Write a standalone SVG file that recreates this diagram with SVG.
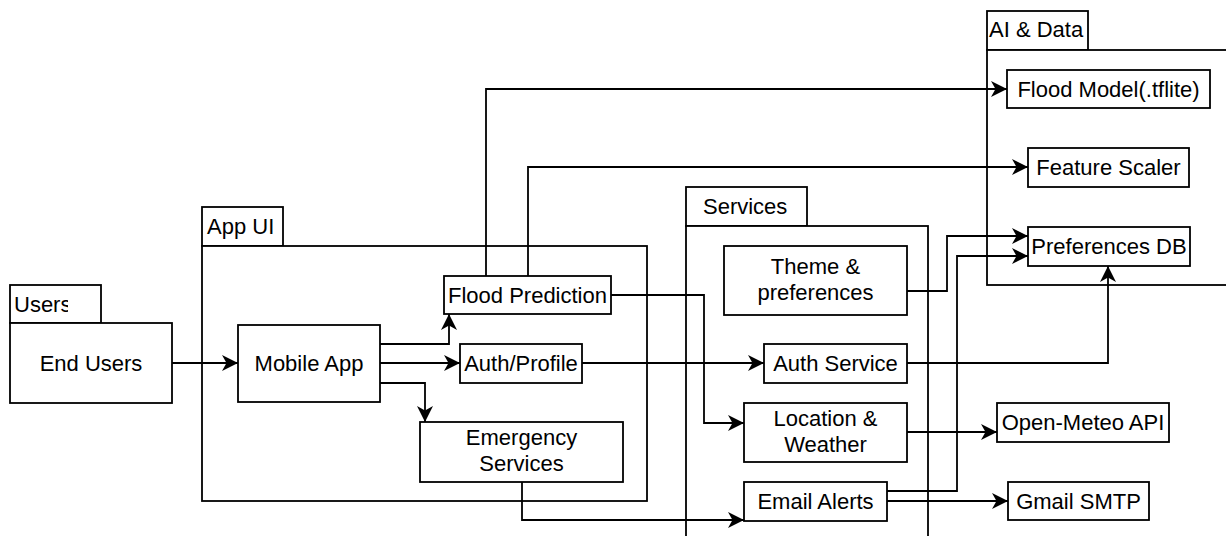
<svg xmlns="http://www.w3.org/2000/svg" width="1226" height="536" viewBox="0 0 1226 536">
  <style>
    .box { fill: #ffffff; stroke: #000000; stroke-width: 1.8; }
    .lbl { font-family: "Liberation Sans", Arial, sans-serif; font-size: 22px; fill: #000000; text-anchor: middle; }
    .tab { font-family: "Liberation Sans", Arial, sans-serif; font-size: 22px; fill: #000000; }
    .edge { fill: none; stroke: #000000; stroke-width: 1.8; marker-end: url(#arrow); }
  </style>
  <defs>
    <marker id="arrow" markerUnits="userSpaceOnUse" markerWidth="16" markerHeight="16" refX="16" refY="8" orient="auto">
      <path d="M0,0 L16,8 L0,16 L4.5,8 Z" fill="#000000"/>
    </marker>
    <clipPath id="usersTabClip">
      <rect x="10" y="285" width="58" height="38"/>
    </clipPath>
  </defs>
  <rect x="0" y="0" width="1226" height="536" fill="#ffffff"/>

  <!-- containers -->
  <g id="users">
    <rect class="box" x="10" y="285" width="91" height="38"/>
    <text class="tab" x="14" y="311.5" clip-path="url(#usersTabClip)">Users</text>
  </g>
  <g id="app-ui">
    <rect class="box" x="202" y="207" width="81" height="39"/>
    <text class="tab" x="207" y="233.5">App UI</text>
    <rect class="box" x="202" y="246" width="445" height="255"/>
  </g>
  <g id="services">
    <rect class="box" x="686" y="187" width="121" height="39"/>
    <text class="tab" x="703" y="213.5">Services</text>
    <rect class="box" x="686" y="226" width="242" height="330"/>
  </g>
  <g id="ai-data">
    <rect class="box" x="987" y="11" width="101" height="39"/>
    <text class="tab" x="989" y="37">AI &amp; Data</text>
    <rect class="box" x="987" y="50" width="260" height="235"/>
  </g>

  <!-- nodes -->
  <g id="end-users">
    <rect class="box" x="10" y="323" width="162" height="80"/>
    <text class="lbl" x="91" y="371">End Users</text>
  </g>
  <g id="mobile-app">
    <rect class="box" x="238" y="325" width="142" height="77"/>
    <text class="lbl" x="309" y="371">Mobile App</text>
  </g>
  <g id="flood-prediction">
    <rect class="box" x="444" y="276" width="167" height="38"/>
    <text class="lbl" x="527.5" y="303">Flood Prediction</text>
  </g>
  <g id="auth-profile">
    <rect class="box" x="460" y="344" width="122" height="39"/>
    <text class="lbl" x="521" y="371">Auth/Profile</text>
  </g>
  <g id="emergency-services">
    <rect class="box" x="420" y="422" width="203" height="60"/>
    <text class="lbl" x="521.5" y="445">Emergency</text>
    <text class="lbl" x="521.5" y="471">Services</text>
  </g>
  <g id="theme-preferences">
    <rect class="box" x="724" y="246" width="183" height="69"/>
    <text class="lbl" x="815.5" y="274">Theme &amp;</text>
    <text class="lbl" x="815.5" y="300">preferences</text>
  </g>
  <g id="auth-service">
    <rect class="box" x="764" y="344" width="143" height="39"/>
    <text class="lbl" x="835.5" y="371">Auth Service</text>
  </g>
  <g id="location-weather">
    <rect class="box" x="744" y="403" width="163" height="59"/>
    <text class="lbl" x="825.5" y="426">Location &amp;</text>
    <text class="lbl" x="825.5" y="452">Weather</text>
  </g>
  <g id="email-alerts">
    <rect class="box" x="744" y="482" width="143" height="39"/>
    <text class="lbl" x="815.5" y="509">Email Alerts</text>
  </g>
  <g id="flood-model">
    <rect class="box" x="1007" y="70" width="203" height="38"/>
    <text class="lbl" x="1108.5" y="97">Flood Model(.tflite)</text>
  </g>
  <g id="feature-scaler">
    <rect class="box" x="1028" y="148" width="161" height="39"/>
    <text class="lbl" x="1108.5" y="175">Feature Scaler</text>
  </g>
  <g id="preferences-db">
    <rect class="box" x="1028" y="227" width="162" height="39"/>
    <text class="lbl" x="1109" y="254">Preferences DB</text>
  </g>
  <g id="open-meteo">
    <rect class="box" x="997" y="403" width="172" height="39"/>
    <text class="lbl" x="1083" y="430">Open-Meteo API</text>
  </g>
  <g id="gmail-smtp">
    <rect class="box" x="1008" y="482" width="141" height="38"/>
    <text class="lbl" x="1078.5" y="509">Gmail SMTP</text>
  </g>

  <!-- connectors -->
  <g id="connectors">
    <path class="edge" d="M172,363 H238"/>
    <path class="edge" d="M380,344 H449 V314"/>
    <path class="edge" d="M380,363 H460"/>
    <path class="edge" d="M380,383 H425 V422"/>
    <path class="edge" d="M486,276 V89 H1007"/>
    <path class="edge" d="M528,276 V167 H1028"/>
    <path class="edge" d="M611,295 H704 V423 H744"/>
    <path class="edge" d="M582,363 H764"/>
    <path class="edge" d="M522,482 V520 H744"/>
    <path class="edge" d="M907,291 H947 V236 H1028"/>
    <path class="edge" d="M907,363 H1108 V266"/>
    <path class="edge" d="M907,432 H997"/>
    <path class="edge" d="M887,491 H957 V256 H1028"/>
    <path class="edge" d="M887,501 H1008"/>
  </g>
</svg>
